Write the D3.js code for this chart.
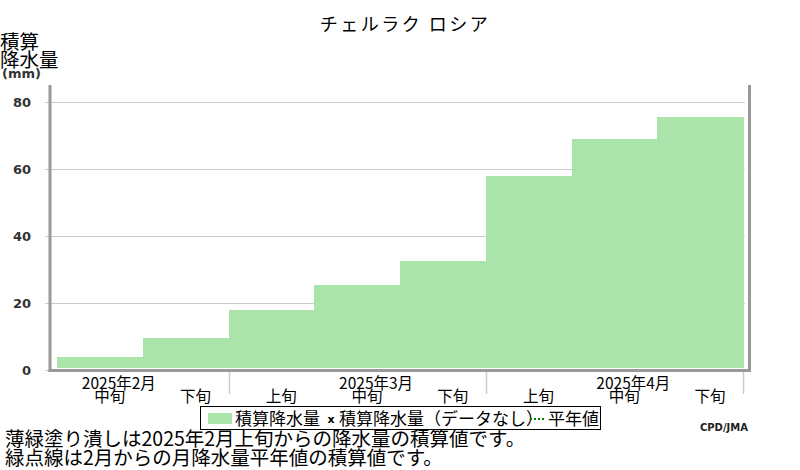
<!DOCTYPE html>
<html><head><meta charset="utf-8">
<script src="https://cdn.jsdelivr.net/npm/d3@7"></script>
<style>
body{margin:0;background:#fff;}
svg{display:block;}
text{font-family:"Noto Sans CJK JP","Noto Sans",sans-serif;}
</style></head>
<body><svg id="c" width="800" height="470"></svg>
<script>
const dekadKeys   = ["2-2","2-3","3-1","3-2","3-3","4-1","4-2","4-3"];
const dekadLabels = ["中旬","下旬","上旬","中旬","下旬","上旬","中旬","下旬"];
const months      = ["2025年2月","2025年3月","2025年4月"];
const monthMidKey = ["2-2","3-2","4-2"];
const monthStartKey = ["3-1","4-1"];
const precip      = [3.7, 9.3, 17.9, 25.1, 32.5, 57.7, 69.0, 75.5];
const yTicks      = [0, 20, 40, 60, 80];
const title = "チェルラク ロシア";
const notes = ["薄緑塗り潰しは2025年2月上旬からの降水量の積算値です。","緑点線は2月からの月降水量平年値の積算値です。"];

const svg = d3.select("#c");
const x = d3.scaleBand().domain(dekadKeys).range([57, 743]).padding(0);
const y = d3.scaleLinear().domain([0, 85]).range([369.5, 85]);

// title
svg.append("text").attr("x", 405).attr("y", 31).attr("text-anchor","middle")
  .attr("font-size", 18).attr("letter-spacing", 2.5).attr("fill","#000").text(title);

// y label
svg.append("text").attr("x", 0).attr("y", 49).attr("font-size", 19.5).text("積算");
svg.append("text").attr("x", 0).attr("y", 67).attr("font-size", 19.5).text("降水量");
svg.append("text").attr("x", 2).attr("y", 78).attr("font-size", 13).attr("font-weight","bold")
  .style("font-family","'DejaVu Sans',sans-serif").attr("fill","#333").text("(mm)");

// gridlines + tick labels
const g = svg.append("g");
g.selectAll("line.grid").data(yTicks).join("line")
  .attr("x1", 45).attr("x2", 745)
  .attr("y1", d => Math.round(y(d)) + 0.5).attr("y2", d => Math.round(y(d)) + 0.5)
  .attr("stroke", "#cccccc").attr("stroke-width", 1);
g.selectAll("text.tick").data(yTicks).join("text")
  .attr("x", 31).attr("y", d => y(d) + 5).attr("text-anchor","end")
  .attr("font-size", 13).attr("font-weight","bold")
  .style("font-family","'DejaVu Sans',sans-serif").attr("fill","#333")
  .text(d => d);

// bars
svg.selectAll("rect.bar").data(precip).join("rect")
  .attr("x", (d,i) => x(dekadKeys[i]))
  .attr("width", x.bandwidth() + 0.5)
  .attr("y", d => y(d))
  .attr("height", d => y(0) - 1.5 - y(d))
  .attr("fill", "#abe4aa")
  .attr("shape-rendering", "crispEdges");

// frame
svg.append("line").attr("x1", 50).attr("x2", 50).attr("y1", 85).attr("y2", 372)
  .attr("stroke","#999").attr("stroke-width",3);
svg.append("line").attr("x1", 749.5).attr("x2", 749.5).attr("y1", 85).attr("y2", 372)
  .attr("stroke","#999").attr("stroke-width",3);
svg.append("line").attr("x1", 48.5).attr("x2", 751).attr("y1", 370.5).attr("y2", 370.5)
  .attr("stroke","#999").attr("stroke-width",3);

// month separators
const sepX = monthStartKey.map(k => x(k)).concat([x.range()[1]]);
svg.selectAll("line.sep").data(sepX).join("line")
  .attr("x1", d => Math.round(d) + 0.5).attr("x2", d => Math.round(d) + 0.5)
  .attr("y1", 372).attr("y2", 394).attr("stroke","#cccccc").attr("stroke-width",1.5);

// x labels
svg.selectAll("text.month").data(months).join("text")
  .attr("x", (d,i) => x(monthMidKey[i]) + x.bandwidth()/2 + 19)
  .attr("y", 389).attr("text-anchor","middle").attr("font-size", 15.5).text(d => d);
svg.selectAll("text.dek").data(dekadLabels).join("text")
  .attr("x", (d,i) => x(dekadKeys[i]) + x.bandwidth()/2 + 10)
  .attr("y", 402).attr("text-anchor","middle").attr("font-size", 15.5).text(d => d);

// legend
const lg = svg.append("g");
lg.append("rect").attr("x", 200.5).attr("y", 406.5).attr("width", 400).attr("height", 23)
  .attr("fill","#fff").attr("stroke","#000").attr("stroke-width",1);
lg.append("rect").attr("x", 208).attr("y", 413).attr("width", 24).attr("height", 11).attr("fill","#abe4aa");
lg.append("text").attr("x", 235).attr("y", 425).attr("font-size", 17).text("積算降水量");
lg.append("text").attr("x", 331).attr("y", 423).attr("text-anchor","middle").attr("font-size", 11)
  .attr("font-weight","bold").style("font-family","'DejaVu Sans',sans-serif").text("x");
lg.append("text").attr("x", 339).attr("y", 425).attr("font-size", 17).text("積算降水量（データなし）");
lg.append("line").attr("x1", 530).attr("x2", 546).attr("y1", 419).attr("y2", 419)
  .attr("stroke","#008000").attr("stroke-width",2).attr("stroke-dasharray","2,2");
lg.append("text").attr("x", 548).attr("y", 425).attr("font-size", 17).text("平年値");

// credit
svg.append("text").attr("x", 748).attr("y", 431).attr("text-anchor","end").attr("font-size", 10)
  .attr("font-weight","bold").style("font-family","'DejaVu Sans',sans-serif").attr("fill","#222").text("CPD/JMA");

// notes
svg.selectAll("text.note").data(notes).join("text")
  .attr("x", 5).attr("y", (d,i) => 446 + i*19).attr("font-size", 19.5).text(d => d);
</script></body></html>
